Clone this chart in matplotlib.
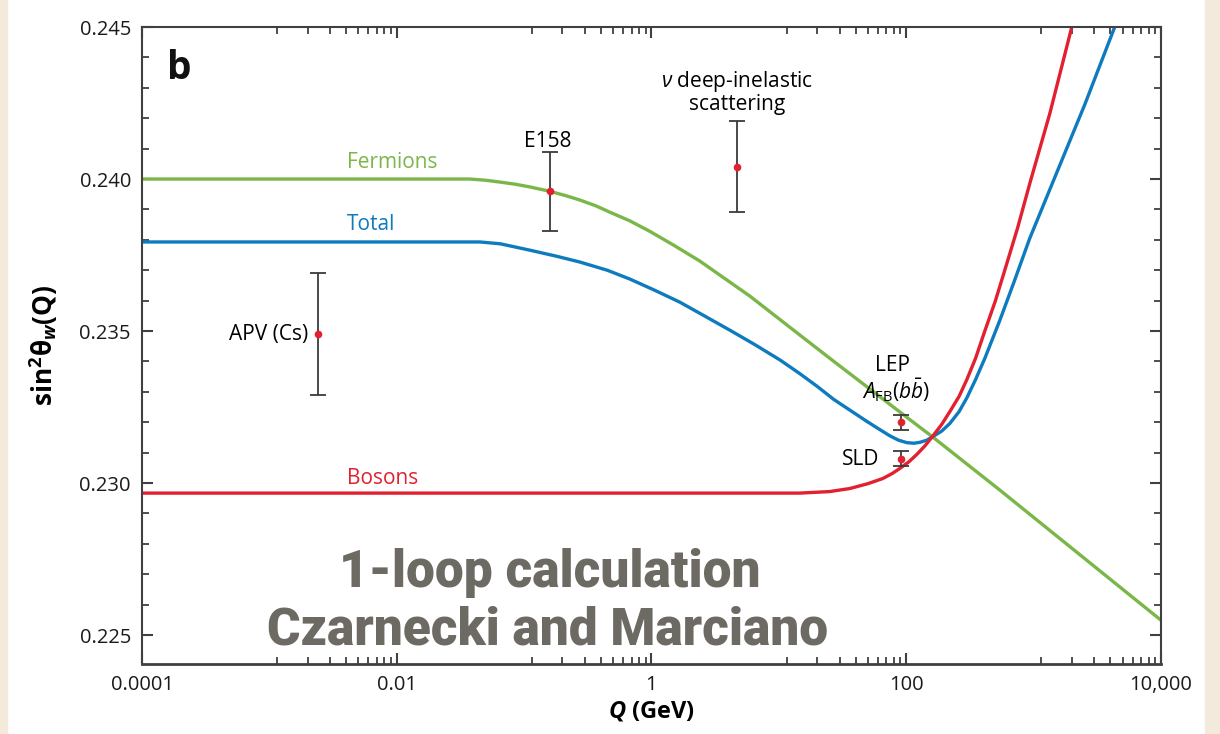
import numpy as np
import matplotlib.pyplot as plt
from matplotlib.ticker import FixedLocator, NullFormatter

plt.rcParams['font.family'] = ['Open Sans', 'DejaVu Sans']
plt.rcParams['mathtext.fontset'] = 'custom'
plt.rcParams['mathtext.rm'] = 'Open Sans'
plt.rcParams['mathtext.it'] = 'Open Sans:italic'
plt.rcParams['mathtext.bf'] = 'Open Sans:bold'
plt.rcParams['mathtext.bfit'] = 'Open Sans:italic:bold'

# running weak mixing angle, one-loop (Q in GeV)
q_fermions = [1e-4, 0.0376, 0.05, 0.0646, 0.085, 0.111, 0.154, 0.21, 0.274, 0.37,
              0.471, 0.68, 0.97, 1.5, 2.40, 5.92, 14.6, 26.1, 89, 162, 543, 1e4]
s_fermions = [0.2400, 0.2400, 0.23996, 0.23990, 0.23983, 0.23974, 0.23961, 0.23946,
              0.23931, 0.23911, 0.23891, 0.23862, 0.23828, 0.23782, 0.23730, 0.23615,
              0.23487, 0.23405, 0.23234, 0.23151, 0.22977, 0.22549]

q_total = [1e-4, 0.045, 0.065, 0.111, 0.18, 0.274, 0.45, 0.676, 1.05, 1.67, 2.6,
           4.12, 6.5, 10.2, 14.6, 20, 27, 37, 49, 62, 74, 87, 101, 115, 128, 145,
           162, 190, 220, 260, 299, 350, 414, 543, 700, 933, 1466, 2523, 4335]
s_total = [0.23793, 0.23793, 0.23787, 0.23766, 0.23746, 0.23727, 0.23700, 0.23671,
           0.23635, 0.23595, 0.23550, 0.23503, 0.23455, 0.23405, 0.23360, 0.23318,
           0.23275, 0.23237, 0.23203, 0.23176, 0.23156, 0.23141, 0.23133, 0.23131,
           0.23134, 0.23141, 0.23153, 0.23171, 0.23196, 0.23235, 0.23280, 0.23340,
           0.23410, 0.23535, 0.23660, 0.23805, 0.24005, 0.24245, 0.24500]

q_bosons = [1e-4, 14.6, 25, 36, 50, 65.5, 78, 89, 105, 121, 140, 162, 190, 220, 260,
            299, 350, 414, 500, 594, 750, 933, 1340, 1995]
s_bosons = [0.22967, 0.22967, 0.22972, 0.22982, 0.22998, 0.23015, 0.23032, 0.23048,
            0.23070, 0.23094, 0.23122, 0.23155, 0.23193, 0.23235, 0.23285, 0.23340,
            0.23410, 0.23500, 0.23598, 0.23700, 0.23840, 0.23985, 0.24215, 0.24500]

# measurements
meas_names = ['APV (Cs)', 'E158', 'nuDIS', 'LEP', 'SLD']
meas_q = [0.0024, 0.16, 4.7, 91.2, 91.2]
meas_s = [0.2349, 0.2396, 0.2404, 0.2320, 0.2308]
meas_err = [0.0020, 0.0013, 0.0015, 0.00025, 0.00025]

green = '#7ab648'
blue = '#0d7bbd'
red = '#e2202f'

fig = plt.figure(figsize=(12.2, 7.34), dpi=100)
fig.patch.set_facecolor('white')
# beige page edges
fig.patches.append(plt.Rectangle((0, 0), 0.006, 1, transform=fig.transFigure,
                                 color='#f3eadb', zorder=0))
fig.patches.append(plt.Rectangle((0.988, 0), 0.012, 1, transform=fig.transFigure,
                                 color='#f3eadb', zorder=0))

ax = fig.add_axes([0.1164, 0.0954, 0.8352, 0.8678])
ax.set_xscale('log')
ax.set_xlim(1e-4, 1e4)
ax.set_ylim(0.22405, 0.245)

ax.plot(q_fermions, s_fermions, color=green, lw=2.4, solid_joinstyle='round')
ax.plot(q_total, s_total, color=blue, lw=2.4, solid_joinstyle='round')
ax.plot(q_bosons, s_bosons, color=red, lw=2.4, solid_joinstyle='round')

ax.errorbar(meas_q, meas_s, yerr=meas_err, fmt='o', color='#e2202f', ms=4.5,
            ecolor='#3a3a3a', elinewidth=1.3, capsize=6, capthick=1.3, zorder=5)

# axes styling
for side in ['left', 'right', 'top', 'bottom']:
    ax.spines[side].set_color('#404040')
    ax.spines[side].set_linewidth(1.5)
ax.spines['bottom'].set_linewidth(2)

ax.xaxis.set_major_locator(FixedLocator([1e-4, 1e-2, 1, 1e2, 1e4]))
ax.set_xticklabels(['0.0001', '0.01', '1', '100', '10,000'])
minor_x = [d * m for d in [1e-3, 1e-1, 1e1, 1e3] for m in [1.15, 2, 3, 4, 5, 6, 7, 8, 9]]
ax.xaxis.set_minor_locator(FixedLocator(minor_x))
ax.xaxis.set_minor_formatter(NullFormatter())

ax.set_yticks([0.225, 0.230, 0.235, 0.240, 0.245])
ax.set_yticklabels(['0.225', '0.230', '0.235', '0.240', '0.245'])
ax.yaxis.set_minor_locator(FixedLocator(np.arange(0.225, 0.2451, 0.001)))

ax.tick_params(which='both', direction='in', top=True, right=True, color='#404040',
               labelsize=14.5, labelcolor='#1a1a1a', pad=8)
ax.tick_params(which='major', length=8, width=1.5)
ax.tick_params(which='minor', length=5, width=1.3)

ax.set_xlabel(r'$\mathbfit{Q}$ (GeV)', fontsize=17, fontweight='bold', labelpad=3)
ax.set_ylabel(r'$\mathbf{sin^2\theta}_{\mathbfit{w}}\mathbf{(Q)}$', fontsize=19,
              labelpad=14)

# curve and data labels
ax.text(0.0245, 0.965, 'b', transform=ax.transAxes, fontsize=28, fontweight='bold',
        ha='left', va='top', color='#111111')
ax.text(0.0093, 0.24053, 'Fermions', color=green, fontsize=15, ha='center', va='center')
ax.text(0.0063, 0.23849, 'Total', color=blue, fontsize=15, ha='center', va='center')
ax.text(0.0078, 0.23016, 'Bosons', color=red, fontsize=15, ha='center', va='center')
ax.text(0.00201, 0.2349, 'APV (Cs)', fontsize=15, ha='right', va='center')
ax.text(0.154, 0.24122, 'E158', fontsize=15, ha='center', va='center')
ax.text(4.68, 0.24286, '$\\nu$ deep-inelastic\nscattering', fontsize=15,
        ha='center', va='center', linespacing=1.0)
ax.text(78.5, 0.23388, 'LEP', fontsize=15, ha='center', va='center')
ax.text(83, 0.23306, r'$A_{\rm FB}(b\bar{b})$', fontsize=15, ha='center', va='center')
ax.text(62, 0.23079, 'SLD', fontsize=15, ha='right', va='center')

# overlay note
note = dict(color='#6d6a63', fontsize=37, fontweight='black', ha='center',
            va='center', family=['Roboto', 'DejaVu Sans'])
ax.text(0.400, 0.143, '1-loop calculation', transform=ax.transAxes, **note)
ax.text(0.398, 0.053, 'Czarnecki and Marciano', transform=ax.transAxes, **note)

fig.savefig('out.png', dpi=100)
